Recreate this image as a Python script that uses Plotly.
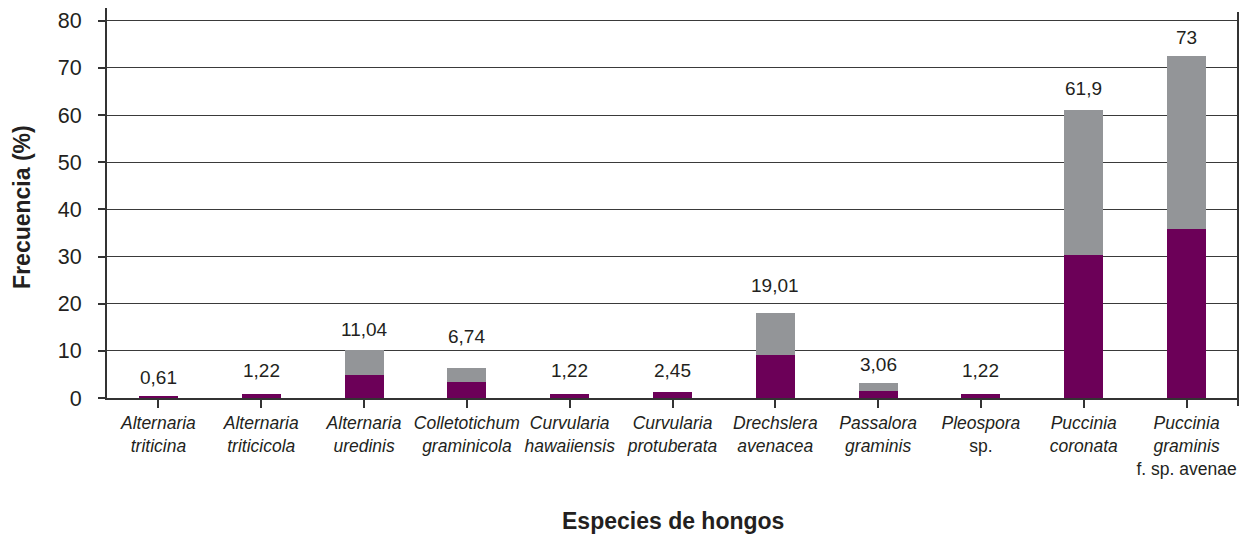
import plotly.graph_objects as go

genus = ["Alternaria", "Alternaria", "Alternaria", "Colletotichum", "Curvularia",
         "Curvularia", "Drechslera", "Passalora", "Pleospora", "Puccinia", "Puccinia"]
epithet = ["triticina", "triticicola", "uredinis", "graminicola", "hawaiiensis",
           "protuberata", "avenacea", "graminis", "sp.", "coronata", "graminis"]
extra = ["", "", "", "", "", "", "", "", "", "", "f. sp. avenae"]
purple_vals = [0.5, 0.8, 4.8, 3.3, 0.8, 1.3, 9.1, 1.5, 0.8, 30.4, 35.9]
grey_vals = [0.0, 0.0, 5.3, 3.0, 0.0, 0.0, 9.0, 1.6, 0.0, 30.7, 36.6]
value_labels = ["0,61", "1,22", "11,04", "6,74", "1,22", "2,45", "19,01", "3,06", "1,22", "61,9", "73"]
y_ticks = [0, 10, 20, 30, 40, 50, 60, 70, 80]

# styling: pixel gap between each bar top and its value label (as placed in the original)
label_gap_px = [6, 11, 8, 19, 11, 9, 15, 6, 11, 9, 6]

PURPLE = "#6C0058"
GREY = "#939598"
TXT = "#231F20"
LINE = "#333333"
FONT = "Liberation Sans, Arial, sans-serif"

cats = list(range(len(genus)))


def tick_text(g, e, x):
    if e == "sp.":
        s = f"<i>{g}</i><br>{e}"
    else:
        s = f"<i>{g}</i><br><i>{e}</i>"
    if x:
        s += f"<br>{x}"
    return s


ticktext = [tick_text(g, e, x) for g, e, x in zip(genus, epithet, extra)]

fig = go.Figure()
fig.add_trace(go.Bar(x=cats, y=purple_vals, marker=dict(color=PURPLE, line=dict(width=0)),
                     width=0.38, showlegend=False, hoverinfo="skip"))
fig.add_trace(go.Bar(x=cats, y=grey_vals, marker=dict(color=GREY, line=dict(width=0)),
                     width=0.38, showlegend=False, hoverinfo="skip"))

for c, p, g, lab, gap in zip(cats, purple_vals, grey_vals, value_labels, label_gap_px):
    fig.add_annotation(x=c, y=p + g, xref="x", yref="y", text=lab, showarrow=False,
                       yanchor="bottom", yshift=gap, font=dict(size=19, color=TXT, family=FONT))

fig.add_annotation(x=0.5, xref="paper", y=0, yref="paper", yshift=-(521 - 398),
                   text="<b>Especies de hongos</b>", showarrow=False,
                   xanchor="center", yanchor="middle",
                   font=dict(size=23, color=TXT, family=FONT))
fig.add_annotation(x=0, xref="paper", y=0.49, yref="paper", xshift=-(107 - 22),
                   text="<b>Frecuencia (%)</b>", textangle=-90, showarrow=False,
                   xanchor="center", yanchor="middle",
                   font=dict(size=23, color=TXT, family=FONT))

fig.add_shape(type="line", xref="paper", yref="paper", x0=1, x1=1, y0=-8 / 390, y1=(398 - 12) / 390,
              line=dict(color=LINE, width=2))

fig.update_layout(
    width=1254, height=534,
    margin=dict(l=107, r=16, t=8, b=136),
    paper_bgcolor="white", plot_bgcolor="white",
    barmode="stack", bargap=0.62,
    font=dict(family=FONT, color=TXT),
    xaxis=dict(
        tickmode="array", tickvals=cats, ticktext=ticktext,
        range=[-0.5, len(cats) - 0.5],
        showgrid=False, zeroline=False, automargin=False,
        showline=True, linecolor=LINE, linewidth=2,
        ticks="outside", ticklen=8, tickwidth=2, tickcolor=LINE,
        tickson="boundaries",
        tickfont=dict(size=17.5, color=TXT, family=FONT),
        tickangle=0,
    ),
    yaxis=dict(
        range=[0, 82.7], tickvals=y_ticks,
        showgrid=True, gridcolor="#3a3a3a", gridwidth=1.2,
        zeroline=False, automargin=False,
        showline=True, linecolor=LINE, linewidth=2,
        ticks="outside", ticklen=7, tickwidth=1.5, tickcolor=LINE,
        ticklabelstandoff=12,
        tickfont=dict(size=21.5, color=TXT, family=FONT),
    ),
)

fig.write_html("out.html", config={"displayModeBar": False},
               post_script="document.body.style.margin='0';")
